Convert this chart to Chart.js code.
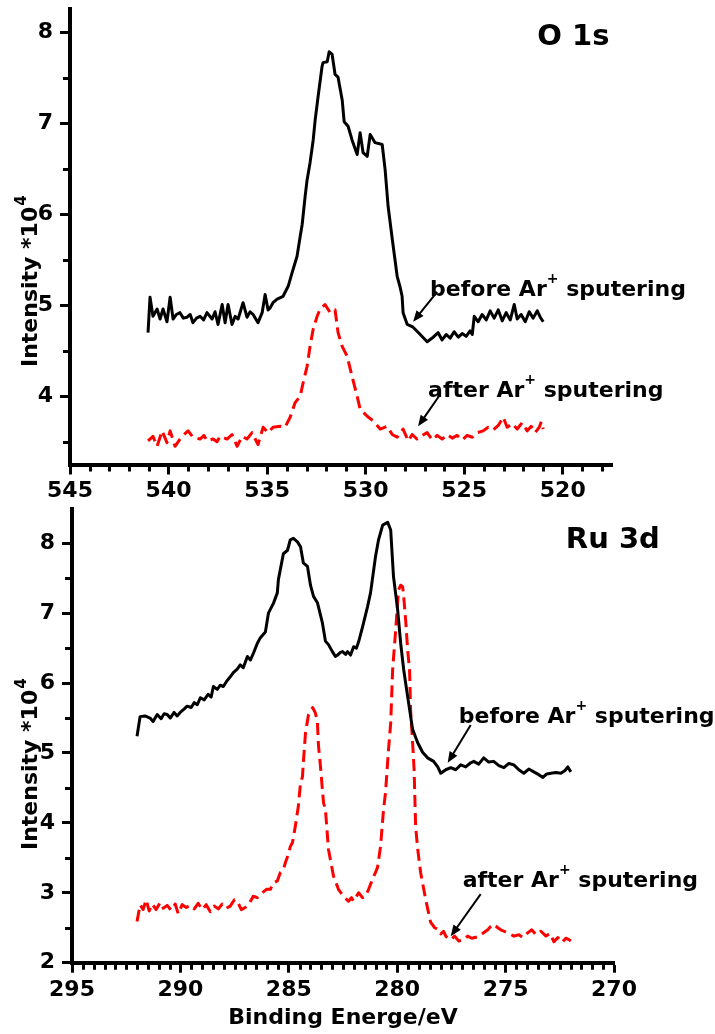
<!DOCTYPE html>
<html>
<head>
<meta charset="utf-8">
<script src="https://cdn.jsdelivr.net/npm/chart.js@4.4.1/dist/chart.umd.min.js"></script>
<style>
  html, body { margin: 0; padding: 0; background: #fff; }
  #wrap { position: relative; width: 715px; height: 1034px; overflow: hidden; }
  canvas { position: absolute; left: 0; }
  #o1s { top: 0; }
  #ru3d { top: 500px; }
</style>
</head>
<body>
<div id="wrap">
  <canvas id="o1s" width="715" height="505"></canvas>
  <canvas id="ru3d" width="715" height="534"></canvas>
</div>
<script>
// ---- O 1s panel (binding energy in eV, intensity in units of 10^4) ----
const o1sBeforeE = [541.04, 540.94, 540.79, 540.58, 540.43, 540.28, 540.08, 539.92, 539.77, 539.6,
  539.42, 539.25, 539.06, 538.9, 538.76, 538.58, 538.4, 538.22, 538.05, 537.79,
  537.64, 537.49, 537.28, 537.13, 536.98, 536.78, 536.62, 536.47, 536.22, 536.02,
  535.86, 535.71, 535.46, 535.25, 535.1, 534.95, 534.85, 534.7, 534.49, 534.19,
  533.93, 533.73, 533.48, 533.32, 533.22, 533.07, 532.97, 532.82, 532.66, 532.56,
  532.41, 532.21, 532.16, 531.95, 531.85, 531.7, 531.55, 531.4, 531.19, 531.09,
  530.89, 530.69, 530.43, 530.28, 530.13, 529.92, 529.77, 529.52, 529.16, 529.01,
  528.86, 528.65, 528.4, 528.25, 528.15, 528.1, 527.89, 527.59, 527.23, 526.88,
  526.57, 526.32, 526.12, 525.91, 525.71, 525.51, 525.3, 525.1, 524.9, 524.7,
  524.59, 524.49, 524.29, 524.09, 523.88, 523.68, 523.48, 523.27, 523.07, 522.87,
  522.66, 522.46, 522.31, 522.11, 521.9, 521.7, 521.5, 521.29, 521.14, 520.99];
const o1sBeforeI = [4.70, 5.09, 4.88, 4.96, 4.85, 4.96, 4.82, 5.09, 4.85, 4.90,
  4.92, 4.86, 4.87, 4.90, 4.81, 4.86, 4.88, 4.84, 4.92, 4.85,
  4.93, 4.79, 5.01, 4.81, 5.01, 4.79, 4.88, 4.85, 5.03, 4.87,
  4.93, 4.90, 4.81, 4.92, 5.12, 4.95, 4.97, 5.03, 5.07, 5.10,
  5.21, 5.36, 5.54, 5.76, 5.89, 6.20, 6.38, 6.57, 6.82, 7.04,
  7.30, 7.63, 7.67, 7.68, 7.79, 7.76, 7.54, 7.51, 7.26, 7.02,
  6.97, 6.82, 6.66, 6.90, 6.68, 6.64, 6.88, 6.79, 6.77, 6.49,
  6.09, 5.73, 5.32, 5.20, 5.10, 4.92, 4.79, 4.76, 4.68, 4.60,
  4.65, 4.70, 4.62, 4.68, 4.64, 4.71, 4.65, 4.69, 4.66, 4.72,
  4.68, 4.88, 4.82, 4.90, 4.84, 4.94, 4.86, 4.95, 4.83, 4.92,
  4.84, 5.01, 4.85, 4.90, 4.82, 4.93, 4.86, 4.94, 4.87, 4.82];

const o1sAfterE = [541.04, 540.79, 540.58, 540.33, 540.08, 539.92, 539.67, 539.42, 539.21, 539.01,
  538.76, 538.4, 538.2, 538.05, 537.74, 537.54, 537.39, 537.03, 536.78, 536.52,
  536.27, 536.02, 535.76, 535.46, 535.2, 534.95, 534.7, 534.34, 534.09, 533.83,
  533.58, 533.32, 533.17, 532.97, 532.82, 532.66, 532.46, 532.31, 532.06, 531.8,
  531.55, 531.4, 531.19, 530.94, 530.69, 530.43, 530.28, 529.92, 529.62, 529.26,
  528.91, 528.65, 528.4, 528.1, 527.84, 527.64, 527.39, 527.13, 526.88, 526.62,
  526.37, 526.12, 525.86, 525.61, 525.36, 525.1, 524.85, 524.59, 524.34, 524.04,
  523.78, 523.53, 523.27, 523.02, 522.82, 522.56, 522.31, 522.06, 521.8, 521.6,
  521.4, 521.19, 521.09, 520.99];
const o1sAfterI = [3.51, 3.56, 3.45, 3.62, 3.49, 3.62, 3.45, 3.53, 3.58, 3.62,
  3.55, 3.53, 3.57, 3.51, 3.53, 3.50, 3.56, 3.53, 3.58, 3.45,
  3.56, 3.53, 3.60, 3.47, 3.66, 3.60, 3.66, 3.67, 3.66, 3.77,
  3.93, 4.00, 4.15, 4.33, 4.55, 4.74, 4.88, 4.96, 5.01, 4.92,
  4.95, 4.70, 4.55, 4.44, 4.22, 4.00, 3.86, 3.78, 3.73, 3.64,
  3.67, 3.58, 3.55, 3.64, 3.51, 3.58, 3.53, 3.57, 3.60, 3.52,
  3.57, 3.53, 3.58, 3.54, 3.57, 3.52, 3.57, 3.55, 3.60, 3.62,
  3.66, 3.63, 3.68, 3.77, 3.66, 3.70, 3.64, 3.71, 3.62, 3.67,
  3.60, 3.66, 3.72, 3.64];

const o1sXTicks = [545, 540, 535, 530, 525, 520];
const o1sYTicks = [4, 5, 6, 7, 8];

// ---- Ru 3d panel ----
const ru3dBeforeE = [292.0, 291.86, 291.63, 291.4, 291.26, 291.07, 290.89, 290.75, 290.61, 290.47,
  290.29, 290.15, 290.01, 289.82, 289.69, 289.5, 289.36, 289.22, 289.08, 288.9,
  288.72, 288.58, 288.48, 288.3, 288.16, 288.02, 287.88, 287.7, 287.56, 287.38,
  287.24, 287.1, 286.91, 286.77, 286.64, 286.45, 286.31, 286.08, 285.94, 285.71,
  285.53, 285.48, 285.25, 285.06, 284.93, 284.79, 284.6, 284.46, 284.33, 284.14,
  284.0, 283.86, 283.68, 283.45, 283.31, 283.17, 282.99, 282.85, 282.75, 282.62,
  282.52, 282.38, 282.29, 282.15, 282.01, 281.88, 281.78, 281.6, 281.37, 281.23,
  281.0, 280.86, 280.67, 280.44, 280.3, 280.17, 279.98, 279.84, 279.7, 279.52,
  279.29, 279.06, 278.83, 278.6, 278.32, 278.13, 277.99, 277.76, 277.53, 277.3,
  277.07, 276.84, 276.61, 276.47, 276.24, 276.01, 275.78, 275.55, 275.31, 275.08,
  274.85, 274.62, 274.39, 274.16, 273.93, 273.7, 273.47, 273.28, 273.1, 272.91,
  272.68, 272.45, 272.26, 272.13, 271.99];
const ru3dBeforeI = [5.24, 5.52, 5.53, 5.50, 5.45, 5.55, 5.49, 5.56, 5.55, 5.50,
  5.58, 5.53, 5.58, 5.63, 5.67, 5.65, 5.72, 5.69, 5.79, 5.76,
  5.84, 5.80, 5.95, 5.91, 5.97, 5.95, 6.02, 6.09, 6.15, 6.20,
  6.26, 6.22, 6.38, 6.33, 6.42, 6.57, 6.65, 6.73, 7.00, 7.14,
  7.29, 7.48, 7.85, 7.90, 8.05, 8.07, 8.02, 7.95, 7.72, 7.67,
  7.40, 7.24, 7.15, 6.86, 6.60, 6.55, 6.45, 6.38, 6.40, 6.44,
  6.45, 6.41, 6.45, 6.40, 6.52, 6.50, 6.59, 6.80, 7.09, 7.29,
  7.81, 8.05, 8.26, 8.30, 8.19, 7.52, 7.05, 6.57, 6.19, 5.81,
  5.34, 5.15, 5.01, 4.93, 4.88, 4.80, 4.71, 4.76, 4.79, 4.76,
  4.83, 4.80, 4.86, 4.88, 4.84, 4.93, 4.87, 4.88, 4.82, 4.79,
  4.85, 4.83, 4.76, 4.71, 4.77, 4.73, 4.69, 4.65, 4.70, 4.71,
  4.72, 4.71, 4.75, 4.80, 4.73];

const ru3dAfterE = [292.0, 291.86, 291.72, 291.58, 291.44, 291.3, 291.12, 290.93, 290.79, 290.61,
  290.43, 290.24, 290.1, 289.92, 289.73, 289.55, 289.36, 289.18, 288.99, 288.81,
  288.62, 288.44, 288.25, 288.07, 287.88, 287.7, 287.51, 287.38, 287.19, 287.01,
  286.82, 286.64, 286.45, 286.22, 286.03, 285.85, 285.71, 285.53, 285.39, 285.25,
  285.16, 285.02, 284.93, 284.83, 284.7, 284.56, 284.46, 284.37, 284.33, 284.23,
  284.09, 284.0, 283.9, 283.77, 283.68, 283.63, 283.54, 283.4, 283.31, 283.17,
  282.94, 282.71, 282.48, 282.25, 282.11, 282.01, 281.78, 281.6, 281.46, 281.32,
  281.14, 280.91, 280.77, 280.63, 280.54, 280.4, 280.3, 280.21, 280.07, 279.94,
  279.84, 279.75, 279.7, 279.61, 279.52, 279.43, 279.38, 279.29, 279.22, 279.15,
  279.06, 278.92, 278.69, 278.46, 278.27, 278.13, 277.99, 277.86, 277.76, 277.62,
  277.53, 277.35, 277.16, 276.93, 276.75, 276.56, 276.28, 276.05, 275.82, 275.68,
  275.55, 275.36, 275.22, 275.08, 274.85, 274.62, 274.39, 274.2, 273.97, 273.79,
  273.6, 273.37, 273.14, 272.96, 272.77, 272.59, 272.4, 272.22, 272.08, 271.99];
const ru3dAfterI = [2.59, 2.83, 2.76, 2.90, 2.74, 2.84, 2.76, 2.86, 2.78, 2.82,
  2.75, 2.84, 2.70, 2.83, 2.79, 2.82, 2.77, 2.85, 2.76, 2.83,
  2.73, 2.81, 2.77, 2.84, 2.78, 2.81, 2.90, 2.88, 2.76, 2.79,
  2.85, 2.95, 2.93, 3.00, 3.05, 3.05, 3.14, 3.17, 3.29, 3.33,
  3.43, 3.55, 3.66, 3.72, 3.95, 4.24, 4.57, 4.66, 4.86, 5.29,
  5.55, 5.60, 5.65, 5.57, 5.43, 5.10, 4.81, 4.29, 4.19, 3.62,
  3.24, 3.05, 2.95, 2.88, 2.93, 2.88, 3.00, 2.93, 2.95, 3.05,
  3.19, 3.36, 3.66, 4.19, 4.43, 5.05, 5.43, 6.19, 6.76, 7.33,
  7.40, 7.38, 7.24, 6.90, 6.48, 6.19, 5.60, 5.15, 4.76, 3.95,
  3.64, 3.29, 2.91, 2.58, 2.50, 2.48, 2.41, 2.45, 2.38, 2.34,
  2.33, 2.38, 2.31, 2.33, 2.38, 2.35, 2.37, 2.42, 2.47, 2.52,
  2.55, 2.50, 2.47, 2.45, 2.42, 2.38, 2.40, 2.36, 2.43, 2.47,
  2.40, 2.45, 2.38, 2.42, 2.30, 2.36, 2.29, 2.35, 2.33, 2.31];

const ru3dXTicks = [295, 290, 285, 280, 275, 270];
const ru3dYTicks = [2, 3, 4, 5, 6, 7, 8];

const FAMILY = "'DejaVu Sans', Verdana, sans-serif";
const tickFont = { family: FAMILY, size: 22, weight: 'bold' };

function pairs(xs, ys) {
    return xs.map((x, i) => ({ x: x, y: ys[i] }));
}

function drawArrow(ctx, x1, y1, x2, y2) {
    const ang = Math.atan2(y2 - y1, x2 - x1);
    const head = 11, half = 4.5;
    ctx.save();
    ctx.strokeStyle = '#000';
    ctx.fillStyle = '#000';
    ctx.lineWidth = 2;
    ctx.beginPath();
    ctx.moveTo(x1, y1);
    ctx.lineTo(x2 - Math.cos(ang) * head * 0.8, y2 - Math.sin(ang) * head * 0.8);
    ctx.stroke();
    ctx.beginPath();
    ctx.moveTo(x2, y2);
    ctx.lineTo(x2 - Math.cos(ang) * head - Math.sin(ang) * half, y2 - Math.sin(ang) * head + Math.cos(ang) * half);
    ctx.lineTo(x2 - Math.cos(ang) * head + Math.sin(ang) * half, y2 - Math.sin(ang) * head - Math.cos(ang) * half);
    ctx.closePath();
    ctx.fill();
    ctx.restore();
}

// "before Ar+ sputering" with a raised plus sign
function drawArLabel(ctx, x, y, prefix) {
    ctx.save();
    ctx.fillStyle = '#000';
    ctx.textAlign = 'left';
    ctx.textBaseline = 'alphabetic';
    ctx.font = 'bold 22px ' + FAMILY;
    const head = prefix + ' Ar';
    ctx.fillText(head, x, y);
    let cx = x + ctx.measureText(head).width;
    ctx.font = 'bold 14px ' + FAMILY;
    ctx.fillText('+', cx, y - 13);
    cx += ctx.measureText('+').width;
    ctx.font = 'bold 22px ' + FAMILY;
    ctx.fillText(' sputering', cx, y);
    ctx.restore();
}

function spectrumChart(canvasId, cfg) {
    const decorations = {
        id: 'decorations',
        afterDraw(chart) {
            const ctx = chart.ctx;
            const xs = chart.scales.x, ys = chart.scales.y;
            const area = chart.chartArea;
            const px = v => xs.getPixelForValue(v);
            const py = v => ys.getPixelForValue(v);

            // minor ticks
            ctx.save();
            ctx.strokeStyle = '#000';
            ctx.lineWidth = 3;
            ctx.beginPath();
            for (let k = Math.ceil(xs.min / cfg.xMinor); k * cfg.xMinor <= xs.max + 1e-9; k++) {
                const v = +(k * cfg.xMinor).toFixed(2);
                if (cfg.xTicks.indexOf(v) >= 0) continue;
                const p = Math.round(px(v)) + 0.5;
                ctx.moveTo(p, area.bottom);
                ctx.lineTo(p, area.bottom + 7);
            }
            for (let k = Math.ceil(ys.min / cfg.yMinor); k * cfg.yMinor <= ys.max + 1e-9; k++) {
                const v = +(k * cfg.yMinor).toFixed(2);
                if (cfg.yTicks.indexOf(v) >= 0) continue;
                const p = Math.round(py(v)) + 0.5;
                ctx.moveTo(area.left, p);
                ctx.lineTo(area.left - 7, p);
            }
            ctx.stroke();
            ctx.restore();

            // y axis title with superscript
            ctx.save();
            ctx.fillStyle = '#000';
            ctx.translate(cfg.yTitlePos[0], cfg.yTitlePos[1]);
            ctx.rotate(-Math.PI / 2);
            ctx.textAlign = 'left';
            ctx.textBaseline = 'alphabetic';
            ctx.font = 'bold 22px ' + FAMILY;
            ctx.fillText('Intensity *10', 0, 0);
            const w = ctx.measureText('Intensity *10').width;
            ctx.font = 'bold 15px ' + FAMILY;
            ctx.fillText('4', w + 1, -11);
            ctx.restore();

            // panel name
            ctx.save();
            ctx.fillStyle = '#000';
            ctx.font = 'bold 29px ' + FAMILY;
            ctx.textAlign = 'left';
            ctx.textBaseline = 'alphabetic';
            ctx.fillText(cfg.name, px(cfg.nameAt[0]), py(cfg.nameAt[1]));
            ctx.restore();

            // annotations
            cfg.notes.forEach(n => {
                drawArLabel(ctx, px(n.at[0]), py(n.at[1]), n.text);
                drawArrow(ctx, px(n.from[0]), py(n.from[1]), px(n.to[0]), py(n.to[1]));
            });
        }
    };

    return new Chart(document.getElementById(canvasId), {
        type: 'line',
        data: {
            datasets: [
                { data: pairs(cfg.beforeE, cfg.beforeI), borderColor: '#000', borderWidth: 3 },
                { data: pairs(cfg.afterE, cfg.afterI), borderColor: '#ff0000', borderWidth: 3, borderDash: [12, 6] }
            ]
        },
        options: {
            responsive: false,
            animation: false,
            events: [],
            layout: { padding: cfg.padding },
            elements: {
                point: { radius: 0 },
                line: { tension: 0, borderJoinStyle: 'round', fill: false }
            },
            plugins: { legend: { display: false }, tooltip: { enabled: false } },
            scales: {
                x: {
                    type: 'linear',
                    reverse: true,
                    min: cfg.xMin,
                    max: cfg.xMax,
                    afterBuildTicks: s => { s.ticks = cfg.xTicks.map(v => ({ value: v })); },
                    afterFit: s => { s.height = cfg.xHeight; s.paddingLeft = 0; s.paddingRight = 0; },
                    grid: { display: true, drawOnChartArea: false, tickLength: 10, tickWidth: 3, tickColor: '#000' },
                    border: { display: true, width: 4, color: '#000' },
                    ticks: { color: '#000', font: tickFont, padding: 4, maxRotation: 0, autoSkip: false,
                             callback: v => String(v) },
                    title: {
                        display: !!cfg.xTitle,
                        text: cfg.xTitle || '',
                        color: '#000',
                        font: { family: FAMILY, size: 22, weight: 'bold' },
                        padding: { top: 0, bottom: 3 }
                    }
                },
                y: {
                    type: 'linear',
                    min: cfg.yMin,
                    max: cfg.yMax,
                    afterBuildTicks: s => { s.ticks = cfg.yTicks.map(v => ({ value: v })); },
                    afterFit: s => { s.width = cfg.yWidth; s.paddingTop = 0; s.paddingBottom = 0; },
                    grid: { display: true, drawOnChartArea: false, tickLength: 10, tickWidth: 3, tickColor: '#000' },
                    border: { display: true, width: 4, color: '#000' },
                    ticks: { color: '#000', font: tickFont, padding: 7, callback: v => String(v) }
                }
            }
        },
        plugins: [decorations]
    });
}

spectrumChart('o1s', {
    beforeE: o1sBeforeE, beforeI: o1sBeforeI,
    afterE: o1sAfterE, afterI: o1sAfterI,
    xMin: 517.5, xMax: 545, xTicks: o1sXTicks, xMinor: 1,
    yMin: 3.25, yMax: 8.26, yTicks: o1sYTicks, yMinor: 0.5,
    padding: { left: 0, top: 9, right: 103, bottom: 0 },
    xHeight: 40.5, yWidth: 70,
    yTitlePos: [37, 367],
    name: 'O 1s', nameAt: [521.29, 7.86],
    notes: [
        { text: 'before', at: [526.73, 5.10], from: [526.37, 5.15], to: [527.59, 4.82] },
        { text: 'after', at: [526.83, 3.99], from: [526.22, 4.02], to: [527.34, 3.67] }
    ]
});

spectrumChart('ru3d', {
    beforeE: ru3dBeforeE, beforeI: ru3dBeforeI,
    afterE: ru3dAfterE, afterI: ru3dAfterI,
    xMin: 270, xMax: 295, xTicks: ru3dXTicks, xMinor: 0.5,
    yMin: 2, yMax: 8.49, yTicks: ru3dYTicks, yMinor: 0.5,
    padding: { left: 0, top: 9, right: 101, bottom: 0 },
    xHeight: 71.3, yWidth: 72,
    xTitle: 'Binding Energe/eV',
    yTitlePos: [37, 350],
    name: 'Ru 3d', nameAt: [272.22, 7.93],
    notes: [
        { text: 'before', at: [277.16, 5.43], from: [276.61, 5.40], to: [277.67, 4.86] },
        { text: 'after', at: [276.98, 3.08], from: [276.15, 2.98], to: [277.53, 2.38] }
    ]
});
</script>
</body>
</html>
